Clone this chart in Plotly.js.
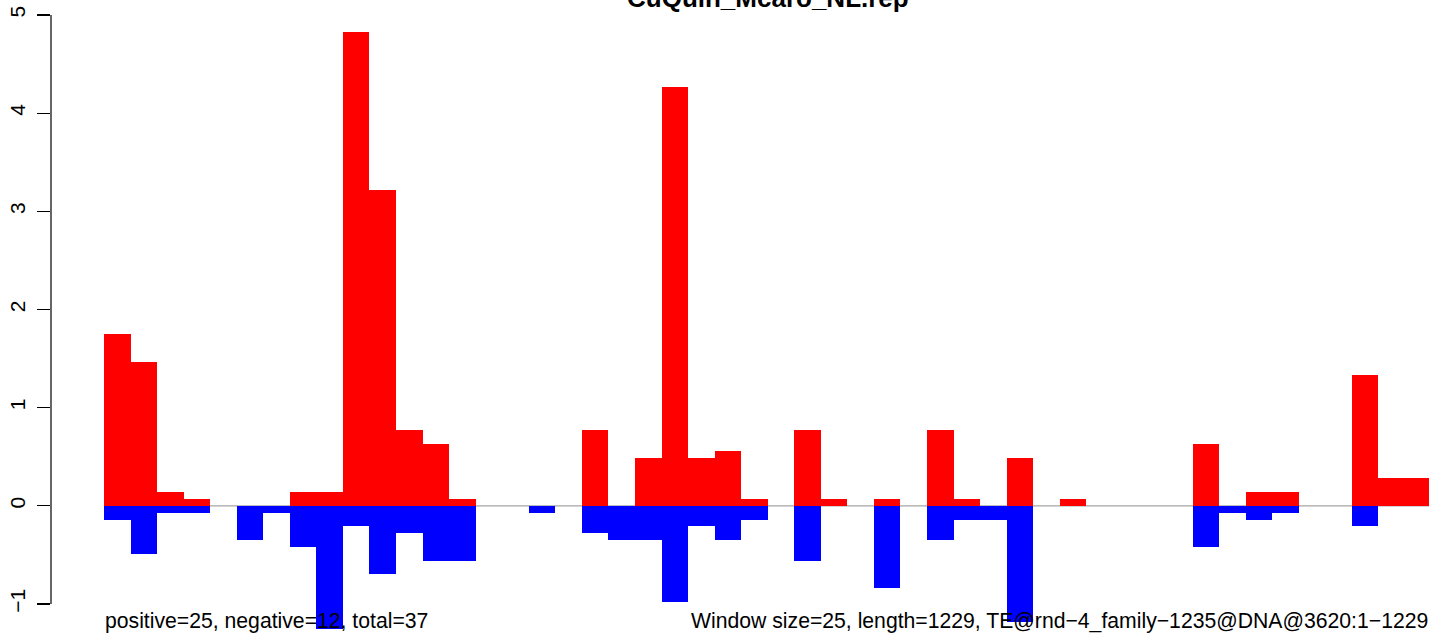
<!DOCTYPE html>
<html>
<head>
<meta charset="utf-8">
<script src="https://cdn.plot.ly/plotly-3.0.1.min.js"></script>
<style>html,body{margin:0;padding:0;background:#fff;}#chart{width:1429px;height:634px;}</style>
</head>
<body>
<div id="chart"></div>
<script>
// Window index (each window = 25 bp)
const windowIndex = [0,1,2,3,4,5,6,7,8,9,10,11,12,13,14,15,16,17,18,19,20,21,22,23,24,25,26,27,28,29,30,31,32,33,34,35,36,37,38,39,40,41,42,43,44,45,46,47,48,49];
// Positive-strand values (red)
const positiveValues = [1.747,1.468,0.14,0.07,0,0,0,0.14,0.14,4.823,3.215,0.769,0.629,0.07,0,0,0,0,0.769,0,0.489,4.264,0.489,0.559,0.07,0,0.769,0.07,0,0.07,0,0.769,0.07,0,0.489,0,0.07,0,0,0,0,0.629,0,0.14,0.14,0,0,1.328,0.28,0.28];
// Negative-strand values (blue)
const negativeValues = [-0.14,-0.489,-0.07,-0.07,0,-0.35,-0.07,-0.419,-1.258,-0.21,-0.699,-0.28,-0.559,-0.559,0,0,-0.07,0,-0.28,-0.35,-0.35,-0.979,-0.21,-0.35,-0.14,0,-0.559,0,0,-0.839,0,-0.35,-0.14,-0.14,-1.188,0,0,0,0,0,0,-0.419,-0.07,-0.14,-0.07,0,0,-0.21,0,0];
const yTickValues = [-1,0,1,2,3,4,5];
const yTickLabels = ["\u22121","0","1","2","3","4","5"];
const titleText = "CuQuin_Mcaro_NL.rep";
const leftNote = "positive=25, negative=12, total=37";
const rightNote = "Window size=25, length=1229, TE@rnd\u22124_family\u22121235@DNA@3620:1\u22121229";

const xCenters = windowIndex.map(i => i + 0.5);
const font = "Liberation Sans, Arial, Helvetica, sans-serif";

const traces = [
  {type:'bar', x:xCenters, y:positiveValues, width:1, marker:{color:'#FF0000', line:{width:0}}, hoverinfo:'skip'},
  {type:'bar', x:xCenters, y:negativeValues, width:1, marker:{color:'#0000FF', line:{width:0}}, hoverinfo:'skip'}
];

const layout = {
  width:1429, height:634,
  margin:{l:51, r:0, t:0, b:0, pad:0},
  paper_bgcolor:'#fff', plot_bgcolor:'#fff',
  barmode:'overlay', bargap:0,
  showlegend:false,
  xaxis:{range:[-1.996, 49.906], showgrid:false, zeroline:false, showline:false, showticklabels:false, ticks:''},
  yaxis:{range:[-1.306, 5.152], showgrid:false, zeroline:false, showline:false,
         tickmode:'array', tickvals:yTickValues, ticktext:yTickLabels,
         ticks:'outside', ticklen:13, tickwidth:1.2, tickcolor:'#000',
         tickangle:-90, tickfont:{family:font, size:21, color:'#000'}, ticklabelstandoff:4},
  shapes:[
    {type:'line', layer:'below', xref:'x', yref:'y', x0:0, x1:52, y0:0, y1:0, line:{color:'#a6a6a6', width:1.2}},
    {type:'line', layer:'above', xref:'paper', yref:'y', x0:0, x1:0, y0:-1, y1:5, line:{color:'#000', width:1.2}}
  ],
  annotations:[
    {text:'<b>'+titleText+'</b>', xref:'x', x:25, xanchor:'center', yref:'paper', y:1.003, yanchor:'middle', showarrow:false, font:{family:font, size:26, color:'#000'}},
    {text:leftNote, xref:'x', x:0, xanchor:'left', yref:'paper', y:0.021, yanchor:'middle', showarrow:false, font:{family:font, size:21.2, color:'#000'}, borderpad:0},
    {text:rightNote, xref:'x', x:22.07, xanchor:'left', yref:'paper', y:0.021, yanchor:'middle', showarrow:false, font:{family:font, size:21.2, color:'#000'}, borderpad:0}
  ]
};

Plotly.newPlot('chart', traces, layout, {displayModeBar:false, staticPlot:true});
</script>
</body>
</html>
